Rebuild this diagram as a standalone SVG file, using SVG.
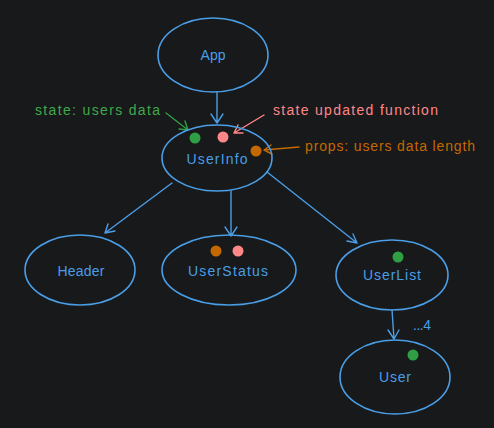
<svg xmlns="http://www.w3.org/2000/svg" width="494" height="428" viewBox="0 0 494 428">
<defs>
<style>
.n{fill:none;stroke:#4a9ee6;stroke-width:1.6}
.t{font-family:"Liberation Sans",Arial,sans-serif;font-size:14px;text-anchor:middle;fill:#4a9ee6}
.c{fill:none;stroke-width:1.4;stroke-linecap:round;stroke-linejoin:round}
.l{font-family:"Liberation Sans",Arial,sans-serif;font-size:14px}
</style>
</defs>
<rect width="494" height="428" fill="#18191b"/>
<g id="connectors">
<path class="c" stroke="#4a9ee6" d="M217 92 L217 123 M211 114 L217 123 L223 114"/>
<path class="c" stroke="#4a9ee6" d="M172 183 L105 233 M108 224 L105 233 L115 231"/>
<path class="c" stroke="#4a9ee6" d="M231 191 L231 236 M225 227 L231 236 L237 227"/>
<path class="c" stroke="#4a9ee6" d="M267 172 L357 243 M347 241 L357 243 L353 234"/>
<path class="c" stroke="#4a9ee6" d="M392 310 L394 339 M388 330 L394 339 L399 330"/>
<path class="c" stroke="#2f9e44" d="M166 113 L188 130 M179 129 L188 130 L185 121"/>
<path class="c" stroke="#ff8787" d="M264 115 L234 133 M238 125 L234 133 L243 133"/>
<path class="c" stroke="#c46800" d="M299 147 L264 150 M271 145 L264 150 L272 154"/>
</g>
<g id="App"><ellipse class="n" cx="213" cy="55" rx="55" ry="37"/><text class="t" x="213" y="60" textLength="25">App</text></g>
<g id="UserInfo"><ellipse class="n" cx="217" cy="158" rx="55" ry="33"/><text class="t" x="217" y="164" textLength="61">UserInfo</text>
<circle cx="195" cy="138" r="5.5" fill="#2f9e44"/><circle cx="223" cy="137" r="5.5" fill="#ff8787"/><circle cx="256" cy="151" r="5.5" fill="#c46800"/></g>
<g id="Header"><ellipse class="n" cx="80" cy="270" rx="55" ry="35"/><text class="t" x="81" y="276" textLength="47">Header</text></g>
<g id="UserStatus"><ellipse class="n" cx="229" cy="270" rx="67" ry="35"/><text class="t" x="228" y="276" textLength="80">UserStatus</text>
<circle cx="216" cy="251" r="5.5" fill="#c46800"/><circle cx="238" cy="251" r="5.5" fill="#ff8787"/></g>
<g id="UserList"><ellipse class="n" cx="392" cy="275" rx="56" ry="35"/><text class="t" x="392" y="280" textLength="58">UserList</text>
<circle cx="398" cy="257" r="5.5" fill="#2f9e44"/></g>
<g id="User"><ellipse class="n" cx="395" cy="377" rx="55" ry="37"/><text class="t" x="395" y="382" textLength="32">User</text>
<circle cx="413" cy="355" r="5.5" fill="#2f9e44"/></g>
<text class="l" x="35" y="115" fill="#40a84a" textLength="125">state: users data</text>
<text class="l" x="273" y="115" fill="#ff8787" textLength="165">state updated function</text>
<text class="l" x="305" y="151" fill="#c46800" textLength="170">props: users data length</text>
<text class="l" x="413" y="330" fill="#4a9ee6" textLength="18">...4</text>
</svg>
